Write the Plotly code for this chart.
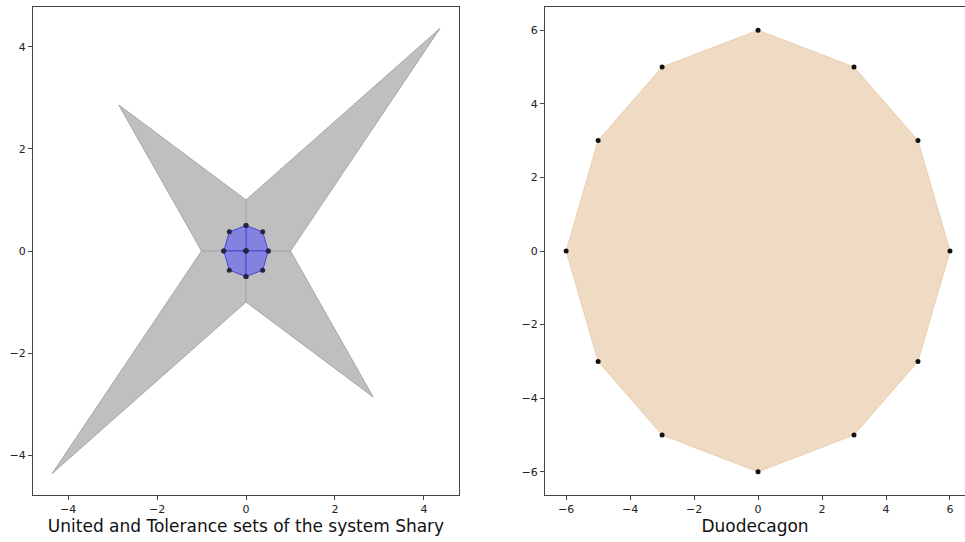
import plotly.graph_objects as go

# United set (star), drawn as four quadrant polygons
united_q1_x = [0, 1, 4.36, 0]
united_q1_y = [0, 0, 4.36, 1]
united_q2_x = [0, 0, -2.86, -1]
united_q2_y = [0, 1, 2.86, 0]
united_q3_x = [0, -1, -4.36, 0]
united_q3_y = [0, 0, -4.36, -1]
united_q4_x = [0, 0, 2.86, 1]
united_q4_y = [0, -1, -2.86, 0]

# Tolerance set (octagon), four quadrant polygons
tol_q1_x = [0, 0.5, 0.375, 0]
tol_q1_y = [0, 0, 0.375, 0.5]
tol_q2_x = [0, 0, -0.375, -0.5]
tol_q2_y = [0, 0.5, 0.375, 0]
tol_q3_x = [0, -0.5, -0.375, 0]
tol_q3_y = [0, 0, -0.375, -0.5]
tol_q4_x = [0, 0, 0.375, 0.5]
tol_q4_y = [0, -0.5, -0.375, 0]

# Duodecagon vertices
duo_x = [6, 5, 3, 0, -3, -5, -6, -5, -3, 0, 3, 5]
duo_y = [0, 3, 5, 6, 5, 3, 0, -3, -5, -6, -5, -3]

left_ticks = [-4, -2, 0, 2, 4]
right_ticks = [-6, -4, -2, 0, 2, 4, 6]

fig = go.Figure()

for qx, qy in [(united_q1_x, united_q1_y), (united_q2_x, united_q2_y),
               (united_q3_x, united_q3_y), (united_q4_x, united_q4_y)]:
    fig.add_trace(go.Scatter(x=qx + [qx[0]], y=qy + [qy[0]], mode="lines",
                             fill="toself", fillcolor="#bfbfbf",
                             line=dict(color="#a6a6a6", width=1),
                             xaxis="x", yaxis="y", hoverinfo="skip"))

for qx, qy in [(tol_q1_x, tol_q1_y), (tol_q2_x, tol_q2_y),
               (tol_q3_x, tol_q3_y), (tol_q4_x, tol_q4_y)]:
    fig.add_trace(go.Scatter(x=qx + [qx[0]], y=qy + [qy[0]], mode="lines+markers",
                             fill="toself", fillcolor="#8383df",
                             line=dict(color="#4646d8", width=1),
                             marker=dict(color="#24243e", size=5),
                             xaxis="x", yaxis="y", hoverinfo="skip"))

fig.add_trace(go.Scatter(x=duo_x + [duo_x[0]], y=duo_y + [duo_y[0]], mode="lines",
                         fill="toself", fillcolor="#efdac4",
                         line=dict(color="#ebcfb0", width=1),
                         xaxis="x2", yaxis="y2", hoverinfo="skip"))
fig.add_trace(go.Scatter(x=duo_x, y=duo_y, mode="markers",
                         marker=dict(color="#111111", size=5),
                         xaxis="x2", yaxis="y2", hoverinfo="skip"))

axis_common = dict(showgrid=False, zeroline=False, showline=True, linecolor="#444444",
                   linewidth=1, ticks="outside", ticklen=4, tickcolor="#444444",
                   tickfont=dict(family="DejaVu Sans", size=11, color="#222222"))

title_font = dict(family="DejaVu Sans", size=17, color="#111111")

fig.update_layout(
    width=965, height=542,
    margin=dict(l=33, r=0, t=7, b=47),
    paper_bgcolor="white", plot_bgcolor="white",
    showlegend=False,
    xaxis=dict(domain=[0, 0.4571], range=[-4.79, 4.79], tickvals=left_ticks,
               mirror=True, title=dict(text="United and Tolerance sets of the system Shary",
                                       font=title_font, standoff=3),
               **axis_common),
    yaxis=dict(domain=[0, 1], range=[-4.78, 4.78], tickvals=left_ticks, mirror=True,
               anchor="x", **axis_common),
    xaxis2=dict(domain=[0.5494, 1], range=[-6.66, 6.47], tickvals=right_ticks,
                mirror=True, anchor="y2",
                title=dict(text="Duodecagon", font=title_font, standoff=3),
                **axis_common),
    yaxis2=dict(domain=[0, 1], range=[-6.63, 6.63], tickvals=right_ticks, mirror=False,
                anchor="x2", **axis_common),
)

fig.write_html("out.html", config={"displayModeBar": False},
               post_script="document.body.style.margin='0';document.body.style.overflow='hidden';")
